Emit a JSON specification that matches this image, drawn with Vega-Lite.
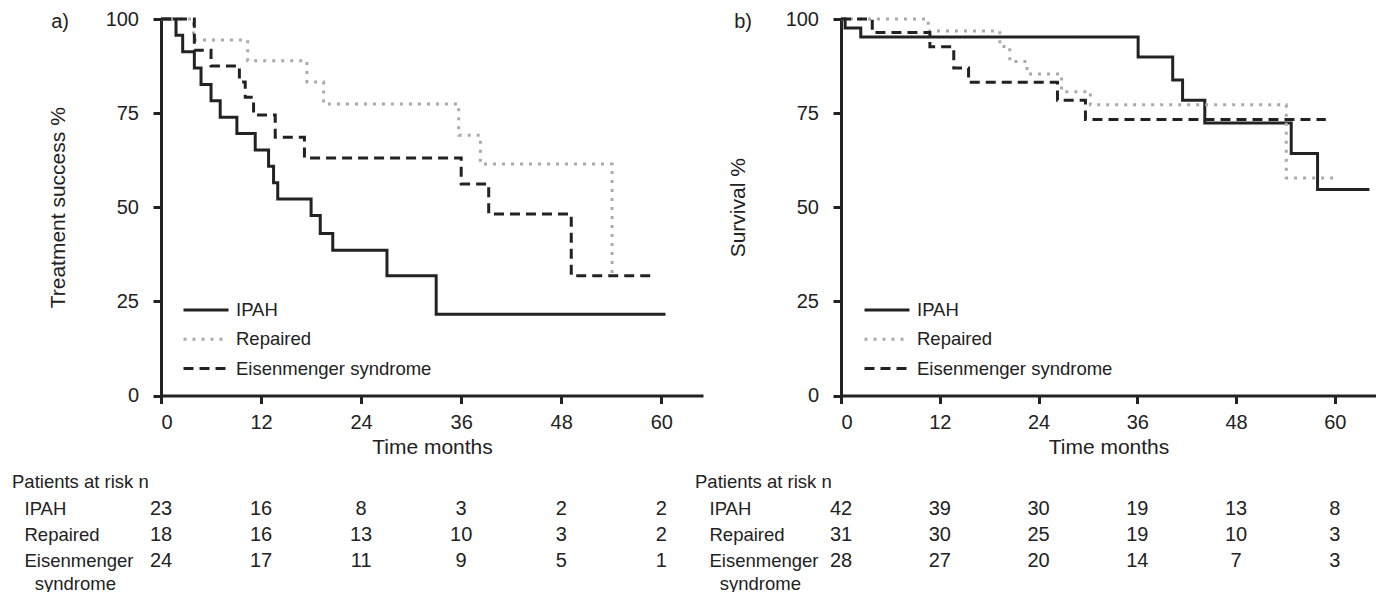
{
  "$schema": "https://vega.github.io/schema/vega-lite/v6.json",
  "background": "white",
  "padding": {"left": 12, "top": 9, "right": 0, "bottom": 0},
  "config": {
    "font": "Liberation Sans",
    "view": {"stroke": null},
    "axis": {
      "grid": false,
      "domainColor": "#222",
      "domainWidth": 3,
      "tickColor": "#222",
      "tickWidth": 3,
      "tickSize": 8,
      "labelFont": "Liberation Sans",
      "labelFontSize": 20,
      "labelColor": "#222",
      "labelPadding": 9,
      "titleFont": "Liberation Sans",
      "titleFontSize": 21,
      "titleFontWeight": "normal",
      "titleColor": "#222"
    },
    "legend": {
      "labelFont": "Liberation Sans",
      "labelFontSize": 18.5,
      "labelColor": "#222",
      "labelLimit": 400,
      "symbolType": "stroke",
      "symbolSize": 2025,
      "symbolStrokeWidth": 3,
      "labelOffset": 6,
      "clipHeight": 18,
      "rowPadding": 10.3,
      "padding": 0
    },
    "title": {"font": "Liberation Sans", "fontWeight": "normal", "color": "#222"}
  },
  "datasets": {
    "ka": [
      {"g": "IPAH", "t": 0, "s": 100},
      {"g": "IPAH", "t": 1.8, "s": 95.7},
      {"g": "IPAH", "t": 2.6, "s": 91.3},
      {"g": "IPAH", "t": 4.0, "s": 87.0},
      {"g": "IPAH", "t": 4.8, "s": 82.6},
      {"g": "IPAH", "t": 6.0, "s": 78.3},
      {"g": "IPAH", "t": 7.1, "s": 73.9},
      {"g": "IPAH", "t": 9.1, "s": 69.6},
      {"g": "IPAH", "t": 11.3, "s": 65.2},
      {"g": "IPAH", "t": 12.9, "s": 60.9},
      {"g": "IPAH", "t": 13.5, "s": 56.5},
      {"g": "IPAH", "t": 14.0, "s": 52.2},
      {"g": "IPAH", "t": 18.0, "s": 47.8},
      {"g": "IPAH", "t": 19.1, "s": 43.0},
      {"g": "IPAH", "t": 20.6, "s": 38.6},
      {"g": "IPAH", "t": 27.1, "s": 31.8},
      {"g": "IPAH", "t": 33.0, "s": 21.6},
      {"g": "IPAH", "t": 60.5, "s": 21.6},
      {"g": "Repaired", "t": 0, "s": 100},
      {"g": "Repaired", "t": 3.9, "s": 94.4},
      {"g": "Repaired", "t": 10.4, "s": 88.9},
      {"g": "Repaired", "t": 17.5, "s": 83.3},
      {"g": "Repaired", "t": 19.5, "s": 77.4},
      {"g": "Repaired", "t": 35.7, "s": 69.1},
      {"g": "Repaired", "t": 38.3, "s": 61.5},
      {"g": "Repaired", "t": 54.1, "s": 31.8},
      {"g": "Repaired", "t": 54.3, "s": 31.8},
      {"g": "Eisenmenger syndrome", "t": 0, "s": 100},
      {"g": "Eisenmenger syndrome", "t": 4.0, "s": 91.7},
      {"g": "Eisenmenger syndrome", "t": 6.0, "s": 87.5},
      {"g": "Eisenmenger syndrome", "t": 9.4, "s": 83.3},
      {"g": "Eisenmenger syndrome", "t": 10.1, "s": 79.2},
      {"g": "Eisenmenger syndrome", "t": 11.1, "s": 74.5},
      {"g": "Eisenmenger syndrome", "t": 13.7, "s": 68.6},
      {"g": "Eisenmenger syndrome", "t": 17.2, "s": 63.1},
      {"g": "Eisenmenger syndrome", "t": 36.0, "s": 56.2},
      {"g": "Eisenmenger syndrome", "t": 39.3, "s": 48.2},
      {"g": "Eisenmenger syndrome", "t": 49.2, "s": 31.8},
      {"g": "Eisenmenger syndrome", "t": 58.7, "s": 31.8}
    ],
    "kb": [
      {"g": "IPAH", "t": 0, "s": 100},
      {"g": "IPAH", "t": 0.5, "s": 97.6},
      {"g": "IPAH", "t": 2.4, "s": 95.2},
      {"g": "IPAH", "t": 36.1, "s": 89.9},
      {"g": "IPAH", "t": 40.3, "s": 83.8},
      {"g": "IPAH", "t": 41.5, "s": 78.4},
      {"g": "IPAH", "t": 44.2, "s": 72.4},
      {"g": "IPAH", "t": 54.7, "s": 64.3},
      {"g": "IPAH", "t": 57.9, "s": 54.7},
      {"g": "IPAH", "t": 64.2, "s": 54.7},
      {"g": "Repaired", "t": 0, "s": 100},
      {"g": "Repaired", "t": 10.6, "s": 96.8},
      {"g": "Repaired", "t": 19.3, "s": 92.7},
      {"g": "Repaired", "t": 20.5, "s": 88.7},
      {"g": "Repaired", "t": 22.6, "s": 85.4},
      {"g": "Repaired", "t": 26.8, "s": 80.7},
      {"g": "Repaired", "t": 30.3, "s": 77.2},
      {"g": "Repaired", "t": 54.1, "s": 57.8},
      {"g": "Repaired", "t": 60.4, "s": 57.8},
      {"g": "Eisenmenger syndrome", "t": 0, "s": 100},
      {"g": "Eisenmenger syndrome", "t": 3.8, "s": 96.4},
      {"g": "Eisenmenger syndrome", "t": 10.8, "s": 92.6},
      {"g": "Eisenmenger syndrome", "t": 13.7, "s": 87.0},
      {"g": "Eisenmenger syndrome", "t": 15.5, "s": 83.2},
      {"g": "Eisenmenger syndrome", "t": 26.3, "s": 78.4},
      {"g": "Eisenmenger syndrome", "t": 29.7, "s": 73.3},
      {"g": "Eisenmenger syndrome", "t": 58.9, "s": 73.3}
    ],
    "ta": [
      {"g": "IPAH", "t": 0, "n": 23}, {"g": "IPAH", "t": 12, "n": 16}, {"g": "IPAH", "t": 24, "n": 8},
      {"g": "IPAH", "t": 36, "n": 3}, {"g": "IPAH", "t": 48, "n": 2}, {"g": "IPAH", "t": 60, "n": 2},
      {"g": "Repaired", "t": 0, "n": 18}, {"g": "Repaired", "t": 12, "n": 16}, {"g": "Repaired", "t": 24, "n": 13},
      {"g": "Repaired", "t": 36, "n": 10}, {"g": "Repaired", "t": 48, "n": 3}, {"g": "Repaired", "t": 60, "n": 2},
      {"g": "Eisenmenger syndrome", "t": 0, "n": 24}, {"g": "Eisenmenger syndrome", "t": 12, "n": 17}, {"g": "Eisenmenger syndrome", "t": 24, "n": 11},
      {"g": "Eisenmenger syndrome", "t": 36, "n": 9}, {"g": "Eisenmenger syndrome", "t": 48, "n": 5}, {"g": "Eisenmenger syndrome", "t": 60, "n": 1}
    ],
    "tb": [
      {"g": "IPAH", "t": 0, "n": 42}, {"g": "IPAH", "t": 12, "n": 39}, {"g": "IPAH", "t": 24, "n": 30},
      {"g": "IPAH", "t": 36, "n": 19}, {"g": "IPAH", "t": 48, "n": 13}, {"g": "IPAH", "t": 60, "n": 8},
      {"g": "Repaired", "t": 0, "n": 31}, {"g": "Repaired", "t": 12, "n": 30}, {"g": "Repaired", "t": 24, "n": 25},
      {"g": "Repaired", "t": 36, "n": 19}, {"g": "Repaired", "t": 48, "n": 10}, {"g": "Repaired", "t": 60, "n": 3},
      {"g": "Eisenmenger syndrome", "t": 0, "n": 28}, {"g": "Eisenmenger syndrome", "t": 12, "n": 27}, {"g": "Eisenmenger syndrome", "t": 24, "n": 20},
      {"g": "Eisenmenger syndrome", "t": 36, "n": 14}, {"g": "Eisenmenger syndrome", "t": 48, "n": 7}, {"g": "Eisenmenger syndrome", "t": 60, "n": 3}
    ]
  },
  "columns": 2,
  "spacing": {"row": 100, "column": 138},
  "bounds": "flush",
  "resolve": {
    "scale": {"x": "independent", "y": "independent"},
    "axis": {"x": "independent", "y": "independent"},
    "legend": {"color": "independent", "strokeDash": "independent"}
  },
  "concat": [
    {
      "width": 542,
      "height": 376.5,
      "title": {"text": "a)", "anchor": "start", "frame": "bounds", "baseline": "top", "offset": 0, "dx": 4, "dy": 23, "fontSize": 20},
      "data": {"name": "ka"},
      "mark": {"type": "line", "interpolate": "step-after", "strokeWidth": 3},
      "encoding": {
        "x": {"field": "t", "type": "quantitative", "scale": {"domain": [0, 65], "nice": false},
              "axis": {"values": [0, 12, 24, 36, 48, 60], "title": "Time months", "titlePadding": 4}},
        "y": {"field": "s", "type": "quantitative", "scale": {"domain": [0, 100], "nice": false},
              "axis": {"values": [0, 25, 50, 75, 100], "title": "Treatment success %", "labelPadding": 14.5, "titlePadding": 37}},
        "color": {"field": "g", "type": "nominal",
                  "scale": {"domain": ["IPAH", "Repaired", "Eisenmenger syndrome"], "range": ["#222222", "#aaaaaa", "#222222"]},
                  "legend": {"title": null, "orient": "none", "legendX": 21, "legendY": 282}},
        "strokeDash": {"field": "g", "type": "nominal",
                  "scale": {"domain": ["IPAH", "Repaired", "Eisenmenger syndrome"], "range": [[1, 0], [3, 6], [10, 6]]},
                  "legend": {"title": null, "orient": "none", "legendX": 21, "legendY": 282}}
      }
    },
    {
      "width": 535,
      "height": 376.5,
      "title": {"text": "b)", "anchor": "start", "frame": "bounds", "baseline": "top", "offset": 0, "dx": 7, "dy": 23, "fontSize": 20},
      "data": {"name": "kb"},
      "mark": {"type": "line", "interpolate": "step-after", "strokeWidth": 3},
      "encoding": {
        "x": {"field": "t", "type": "quantitative", "scale": {"domain": [0, 65], "nice": false},
              "axis": {"values": [0, 12, 24, 36, 48, 60], "title": "Time months", "titlePadding": 4}},
        "y": {"field": "s", "type": "quantitative", "scale": {"domain": [0, 100], "nice": false},
              "axis": {"values": [0, 25, 50, 75, 100], "title": "Survival %", "labelPadding": 14.5, "titlePadding": 37}},
        "color": {"field": "g", "type": "nominal",
                  "scale": {"domain": ["IPAH", "Repaired", "Eisenmenger syndrome"], "range": ["#222222", "#aaaaaa", "#222222"]},
                  "legend": {"title": null, "orient": "none", "legendX": 22, "legendY": 282}},
        "strokeDash": {"field": "g", "type": "nominal",
                  "scale": {"domain": ["IPAH", "Repaired", "Eisenmenger syndrome"], "range": [[1, 0], [3, 6], [10, 6]]},
                  "legend": {"title": null, "orient": "none", "legendX": 22, "legendY": 282}}
      }
    },
    {
      "width": 542,
      "height": 77.4,
      "title": {"text": "Patients at risk n", "anchor": "start", "frame": "bounds", "baseline": "bottom", "offset": 6, "dx": -12, "dy": 20, "fontSize": 18.5},
      "data": {"name": "ta"},
      "mark": {"type": "text", "fontSize": 20, "color": "#222222", "font": "Liberation Sans"},
      "encoding": {
        "x": {"field": "t", "type": "quantitative", "scale": {"domain": [0, 65], "nice": false}, "axis": null},
        "y": {"field": "g", "type": "nominal", "scale": {"domain": ["IPAH", "Repaired", "Eisenmenger syndrome"]},
              "axis": {"title": null, "domain": false, "ticks": false, "tickSize": 0, "labelAlign": "left", "labelPadding": 137,
                       "labelFontSize": 18.5, "labelBaseline": "top", "labelOffset": -9, "labelLineHeight": 22.7,
                       "labelExpr": "datum.value == 'Eisenmenger syndrome' ? ['Eisenmenger', '\u200b\u00a0\u00a0syndrome'] : datum.value"}},
        "text": {"field": "n", "type": "quantitative"}
      }
    },
    {
      "width": 535,
      "height": 77.4,
      "title": {"text": "Patients at risk n", "anchor": "start", "frame": "bounds", "baseline": "bottom", "offset": 6, "dx": -14, "dy": 20, "fontSize": 18.5},
      "data": {"name": "tb"},
      "mark": {"type": "text", "fontSize": 20, "color": "#222222", "font": "Liberation Sans"},
      "encoding": {
        "x": {"field": "t", "type": "quantitative", "scale": {"domain": [0, 65], "nice": false}, "axis": null},
        "y": {"field": "g", "type": "nominal", "scale": {"domain": ["IPAH", "Repaired", "Eisenmenger syndrome"]},
              "axis": {"title": null, "domain": false, "ticks": false, "tickSize": 0, "labelAlign": "left", "labelPadding": 132,
                       "labelFontSize": 18.5, "labelBaseline": "top", "labelOffset": -9, "labelLineHeight": 22.7,
                       "labelExpr": "datum.value == 'Eisenmenger syndrome' ? ['Eisenmenger', '\u200b\u00a0\u00a0syndrome'] : datum.value"}},
        "text": {"field": "n", "type": "quantitative"}
      }
    }
  ]
}
